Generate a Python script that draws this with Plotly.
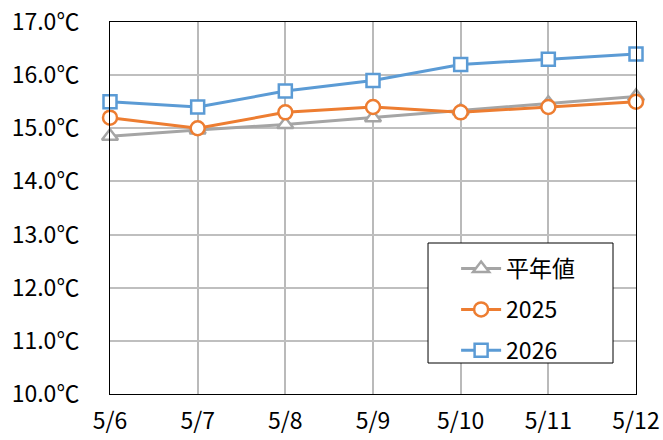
import plotly.graph_objects as go

dates = ["5/6", "5/7", "5/8", "5/9", "5/10", "5/11", "5/12"]
normal = [14.85, 14.97, 15.07, 15.2, 15.33, 15.47, 15.6]
y2025 = [15.2, 15.0, 15.3, 15.4, 15.3, 15.4, 15.5]
y2026 = [15.5, 15.4, 15.7, 15.9, 16.2, 16.3, 16.4]
yticks = [10, 11, 12, 13, 14, 15, 16, 17]
ytick_labels = [f"{v:.1f}℃" for v in yticks]

FONT = "Noto Sans CJK JP"
xs = list(range(len(dates)))

series = [
    ("平年値", normal, "#A5A5A5", "triangle-up", 14),
    ("2025", y2025, "#ED7D31", "circle", 14),
    ("2026", y2026, "#5B9BD5", "square", 13),
]

fig = go.Figure()
for i, (name, vals, color, sym, size) in enumerate(series):
    fig.add_trace(go.Scatter(
        x=xs, y=vals, name=name, mode="lines+markers",
        line=dict(color=color, width=3),
        marker=dict(symbol=sym, size=size, color="white",
                    line=dict(color=color, width=2.5)),
        cliponaxis=False, legendgroup=f"g{i}",
    ))

fig.update_layout(
    template="none",
    width=663, height=440,
    margin=dict(l=110, r=27, t=22, b=46),
    paper_bgcolor="white", plot_bgcolor="white",
    font=dict(family=FONT, size=23, color="#000000"),
    showlegend=True,
    legend=dict(
        x=0.658, y=0.395, xanchor="left", yanchor="top",
        borderwidth=0, bgcolor="rgba(0,0,0,0)",
        font=dict(family=FONT, size=23),
        traceorder="grouped", tracegroupgap=8,
        itemwidth=40,
    ),
    shapes=[dict(
        type="rect", xref="paper", yref="paper",
        x0=0.6046, x1=0.9563, y0=0.0833, y1=0.4059,
        line=dict(color="#000000", width=1), fillcolor="white", layer="above",
    )],
)
fig.update_xaxes(
    range=[0, 6], tickvals=xs, ticktext=dates, automargin=False,
    showgrid=True, gridcolor="#BABABA", gridwidth=1.7,
    showline=True, mirror=True, linecolor="#000000", linewidth=1,
    ticks="", ticklabelstandoff=6, zeroline=False,
    tickfont=dict(family=FONT, size=23),
)
fig.update_yaxes(
    range=[10, 17], tickvals=yticks, ticktext=ytick_labels, automargin=False,
    showgrid=True, gridcolor="#BFBFBF", gridwidth=1.5,
    showline=True, mirror=True, linecolor="#000000", linewidth=1,
    ticks="", ticklabelstandoff=25, zeroline=False,
    tickfont=dict(family=FONT, size=23),
)

fig.write_html(
    "out.html",
    config={"displayModeBar": False},
    post_script="document.body.style.margin='0';document.body.style.overflow='hidden';",
)
